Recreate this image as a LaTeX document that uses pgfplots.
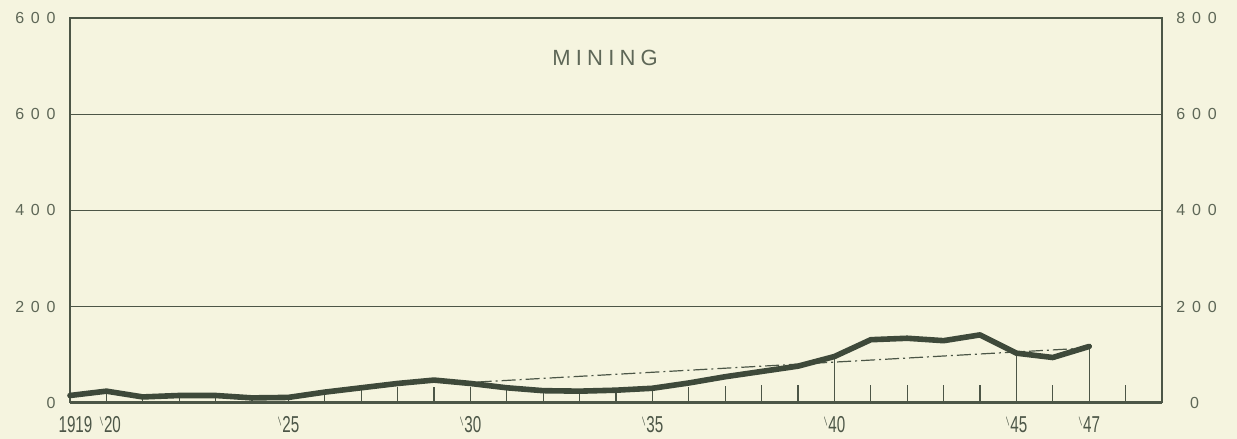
\documentclass[border=0pt]{standalone}
\usepackage{pgfplots}
\pgfplotsset{compat=1.18}
\usepackage{pgfplotstable}
\usepackage{graphicx}
\usepackage{fontspec}
\setmainfont{Liberation Sans}
\definecolor{paper}{HTML}{F5F4DF}
\definecolor{ink}{HTML}{4C5647}
\definecolor{lbl}{HTML}{5E6757}
\definecolor{curve}{HTML}{3E493A}
\newcommand{\spn}[3]{#1\hspace{3.4pt}#2\hspace{3.4pt}#3}
\newcommand{\yr}[1]{\scalebox{0.66}[1]{\fontsize{11.5}{11.5}\selectfont #1}}
\newcommand{\ap}{\raisebox{4.2pt}{\rotatebox{25}{\scalebox{0.45}[0.45]{\symbol{"7C}}}}\hspace{0.4pt}}

\pgfplotstableread{
year val
1919 15
1920 24
1921 12
1922 15
1923 15
1924 10
1925 11
1926 22
1927 31
1928 40
1929 47
1930 40
1931 31
1932 25
1933 24
1934 26
1935 30
1936 41
1937 54
1938 65
1939 76
1940 96
1941 131
1942 134
1943 129
1944 141
1945 103
1946 94
1947 117
}\mining

\pgfplotstableread{
year h
1920 24
1921 12
1922 15
1923 15
1924 10
1925 11
1926 22
1927 31
1928 32
1929 32
1930 32
1931 31
1932 25
1933 24
1934 26
1935 30
1936 33
1937 34
1938 36
1939 36
1940 96
1941 37
1942 37
1943 37
1944 37
1945 103
1946 37
1947 117
1948 37
}\ticksh

\pgfplotstableread{
year trend
1930.2 43
1947 114
}\trend

\begin{document}
\begin{tikzpicture}
\useasboundingbox (-35pt,-18.15pt) rectangle (583.5pt,201.35pt);
\fill[paper] (-35pt,-18.15pt) rectangle (583.5pt,201.35pt);
\begin{axis}[
  scale only axis, width=546pt, height=192.35pt,
  at={(0,0)}, anchor=south west,
  xmin=1919, xmax=1949, ymin=0, ymax=800,
  axis line style={ink, line width=0.7pt},
  major tick length=0pt,
  ytick={0,200,400,600,800},
  yticklabels={\spn{}{}{0},\spn200,\spn400,\spn600,\spn600},
  yticklabel style={font=\fontsize{8}{8}\selectfont, text=lbl, anchor=east, inner sep=0pt, xshift=-7pt},
  ymajorgrids, grid style={ink, line width=0.6pt},
  extra y ticks={0}, extra y tick labels={},
  extra y tick style={grid style={ink, line width=1.5pt}},
  xtick={1919.15,1920.1,1925,1930,1935,1940,1945,1947},
  xticklabels={\yr{1919},\yr{\ap20},\yr{\ap25},\yr{\ap30},\yr{\ap35},\yr{\ap40},\yr{\ap45},\yr{\ap47}},
  xticklabel style={text=ink, anchor=north, inner sep=0pt, yshift=-6.5pt},
  clip=false,
]
\addplot[ycomb, ink, line width=0.6pt, mark=none] table[x=year, y=h] {\ticksh};
\addplot[ink, line width=0.6pt, dash pattern=on 7pt off 2pt on 1pt off 2pt] table[x=year, y=trend] {\trend};
\addplot[curve, line width=2.8pt, line join=round, line cap=round, mark=none] table[x=year, y=val] {\mining};
\node[text=lbl, font=\fontsize{11}{11}\selectfont] at (axis cs:1933.7,718) {M\hspace{2.6pt}I\hspace{2.6pt}N\hspace{2.6pt}I\hspace{2.6pt}N\hspace{2.6pt}G};
\end{axis}
\begin{axis}[
  scale only axis, width=546pt, height=192.35pt,
  at={(0,0)}, anchor=south west,
  xmin=1919, xmax=1949, ymin=0, ymax=800,
  axis y line*=right, axis x line=none,
  axis line style={ink, line width=0.7pt},
  major tick length=0pt,
  ytick={0,200,400,600,800},
  yticklabels={\spn{}{}{0},\spn200,\spn400,\spn600,\spn800},
  yticklabel style={font=\fontsize{8}{8}\selectfont, text=lbl, anchor=west, inner sep=0pt, xshift=7pt},
]
\addplot[draw=none] coordinates {(1919,0)};
\end{axis}
\end{tikzpicture}
\end{document}
